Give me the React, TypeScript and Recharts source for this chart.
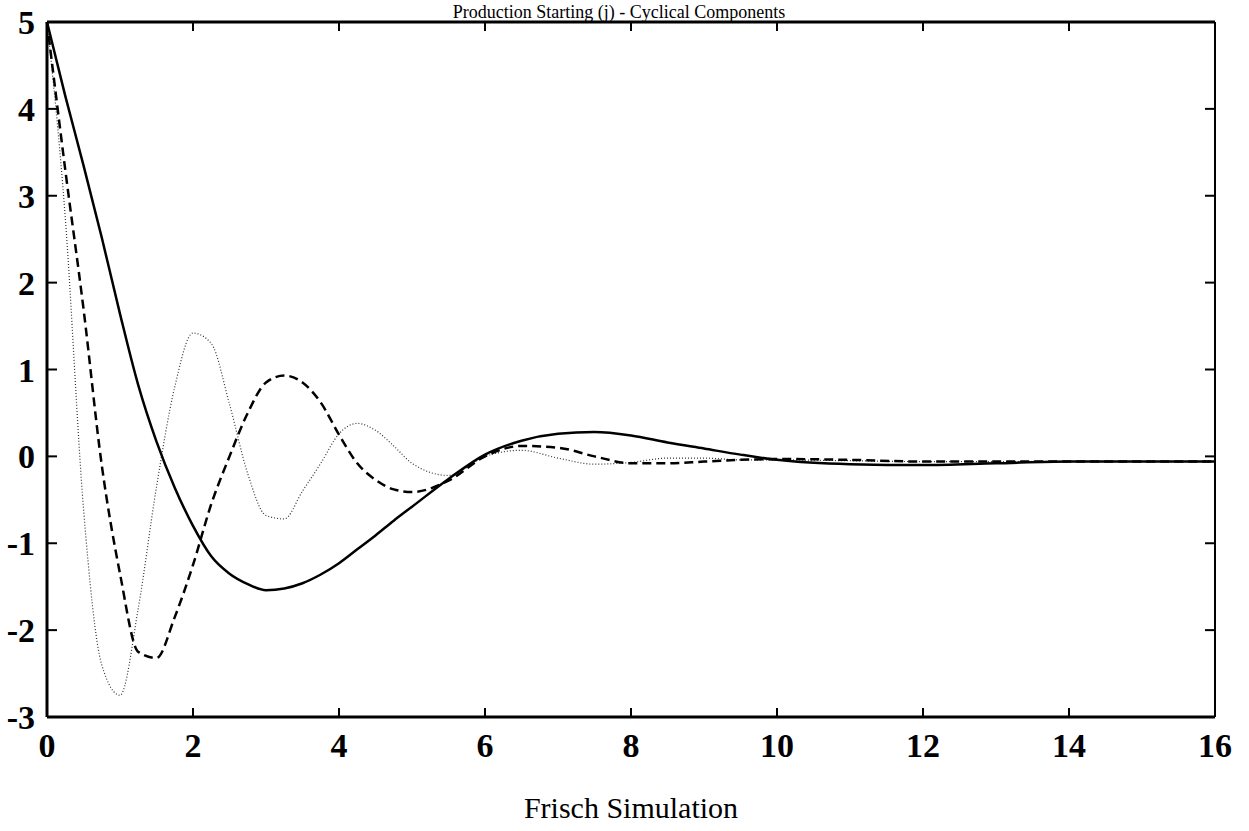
import { LineChart, Line, XAxis, YAxis, Label } from 'recharts';

const xs = [0, 0.25, 0.5, 0.75, 1, 1.25, 1.5, 1.75, 2, 2.25, 2.5, 2.75, 3, 3.25, 3.5, 3.75, 4, 4.25, 4.5, 4.75, 5, 5.5, 6, 6.5, 7, 7.5, 8, 8.5, 9, 9.5, 10, 11, 12, 13, 14, 15, 16];

// solid curve (slowest cycle)
const solid = [5, 4.15, 3.35, 2.52, 1.64, 0.82, 0.17, -0.36, -0.8, -1.15, -1.35, -1.47, -1.54, -1.52, -1.46, -1.36, -1.23, -1.07, -0.91, -0.74, -0.58, -0.26, 0.02, 0.18, 0.26, 0.28, 0.24, 0.16, 0.09, 0.02, -0.04, -0.09, -0.1, -0.08, -0.06, -0.06, -0.06];

// dashed curve
const dashed = [5, 3.3, 1.7, -0.1, -1.35, -2.25, -2.32, -1.85, -1.25, -0.55, 0.0, 0.5, 0.85, 0.93, 0.85, 0.62, 0.25, -0.08, -0.27, -0.38, -0.41, -0.28, 0.0, 0.12, 0.1, 0.0, -0.08, -0.08, -0.06, -0.04, -0.03, -0.04, -0.06, -0.06, -0.06, -0.06, -0.06];

// dotted curve (fastest cycle)
const dotted = [5, 2.75, -0.6, -2.4, -2.75, -1.75, -0.35, 0.8, 1.42, 1.3, 0.6, -0.2, -0.68, -0.72, -0.4, -0.08, 0.26, 0.38, 0.3, 0.12, -0.08, -0.22, 0.0, 0.07, -0.02, -0.09, -0.07, -0.02, -0.02, -0.04, -0.04, -0.05, -0.06, -0.06, -0.06, -0.06, -0.06];

const xTicks = [0, 2, 4, 6, 8, 10, 12, 14, 16];
const yTicks = [-3, -2, -1, 0, 1, 2, 3, 4, 5];

const data = xs.map((x, i) => ({ x, solid: solid[i], dashed: dashed[i], dotted: dotted[i] }));

const FONT = '"Liberation Serif", "Times New Roman", serif';
const AXIS = { stroke: '#000', strokeWidth: 3 };

function BottomTick({ x, payload }: any) {
  return (
    <g>
      <line x1={x} y1={717} x2={x} y2={708} stroke="#000" strokeWidth={2} />
      <text x={x} y={757} textAnchor="middle" fontFamily={FONT} fontWeight="bold" fontSize={34} fill="#000">
        {payload.value}
      </text>
    </g>
  );
}

function TopTick({ x }: any) {
  return <line x1={x} y1={22} x2={x} y2={31} stroke="#000" strokeWidth={2} />;
}

function LeftTick({ y, payload }: any) {
  return (
    <g>
      <line x1={47} y1={y} x2={57} y2={y} stroke="#000" strokeWidth={2} />
      <text x={35} y={y + 12} textAnchor="end" fontFamily={FONT} fontWeight="bold" fontSize={34} fill="#000">
        {payload.value}
      </text>
    </g>
  );
}

function RightTick({ y }: any) {
  return <line x1={1215} y1={y} x2={1205} y2={y} stroke="#000" strokeWidth={2} />;
}

export default function App() {
  return (
    <div style={{ position: 'absolute', left: 0, top: 0, background: '#fff' }}>
      <LineChart width={1249} height={831} data={data} margin={{ top: 21, right: 33, left: 0, bottom: 0 }}>
        <XAxis
          dataKey="x"
          type="number"
          domain={[0, 16]}
          ticks={xTicks}
          tick={BottomTick}
          tickLine={false}
          height={114}
          axisLine={AXIS}
          interval={0}
        >
          <Label value="Frisch Simulation" position="insideBottom" offset={13} fontFamily={FONT} fontSize={30} fill="#000" />
        </XAxis>
        <XAxis
          xAxisId="top"
          orientation="top"
          dataKey="x"
          type="number"
          domain={[0, 16]}
          ticks={xTicks}
          tick={TopTick}
          tickLine={false}
          height={1}
          axisLine={AXIS}
          interval={0}
        >
          <Label value="Production Starting (j) - Cyclical Components" position="top" offset={3} dx={-12} fontFamily={FONT} fontSize={18} fill="#000" />
        </XAxis>
        <YAxis
          type="number"
          domain={[-3, 5]}
          ticks={yTicks}
          tick={LeftTick}
          tickLine={false}
          width={47}
          axisLine={AXIS}
          interval={0}
        />
        <YAxis
          yAxisId="right"
          orientation="right"
          type="number"
          domain={[-3, 5]}
          ticks={yTicks}
          tick={RightTick}
          tickLine={false}
          width={1}
          axisLine={{ stroke: '#000', strokeWidth: 2 }}
          interval={0}
        />
        <Line xAxisId="top" yAxisId="right" type="monotone" dataKey="dotted" stroke="#333" strokeWidth={1.2} strokeDasharray="1 2" dot={false} isAnimationActive={false} />
        <Line type="monotone" dataKey="dashed" stroke="#000" strokeWidth={2.5} strokeDasharray="9 5" dot={false} isAnimationActive={false} />
        <Line type="monotone" dataKey="solid" stroke="#000" strokeWidth={2.5} dot={false} isAnimationActive={false} />
      </LineChart>
    </div>
  );
}
